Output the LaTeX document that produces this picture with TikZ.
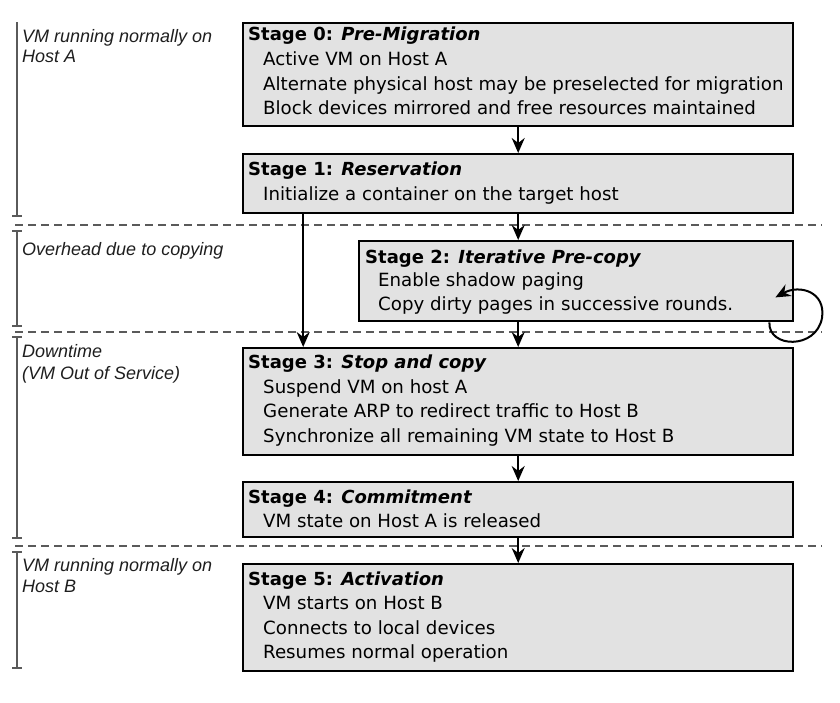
\documentclass[tikz,border=0pt]{standalone}
\usepackage{fontspec}
\setmainfont{DejaVu Sans}
\newfontfamily\labelfont{Liberation Sans}
\usetikzlibrary{arrows.meta,calc}
\definecolor{boxfill}{HTML}{E2E2E2}
\definecolor{barcol}{HTML}{5A5A5A}
\definecolor{labcol}{HTML}{1E1E1E}
\tikzset{
  stagebox/.style={draw=black, line width=2.4pt, fill=boxfill, inner sep=0pt, anchor=north west},
  ttl/.style={anchor=base west, inner sep=0pt, font=\fontsize{18}{22}\selectfont},
  itm/.style={anchor=base west, inner sep=0pt, font=\fontsize{18.2}{22}\selectfont},
  lab/.style={anchor=base west, inner sep=0pt, text=labcol, font=\labelfont\itshape\fontsize{18}{21}\selectfont},
  arr/.style={draw=black, line width=2pt, -{Stealth[length=15pt,width=13pt,inset=5pt]}},
  dashline/.style={draw=barcol, line width=2pt, dash pattern=on 8pt off 5pt},
  bar/.style={draw=barcol, line width=2.5pt},
}
\begin{document}
\begin{tikzpicture}[x=1pt,y=-1pt]
\useasboundingbox (0,0) rectangle (840,702);
% dashed separators
\draw[dashline] (15,225) -- (822,225);
\draw[dashline] (15,332) -- (822,332);
\draw[dashline] (15,546) -- (822,546);
% left bars
\draw[bar] (17,22) -- (17,216) (12,216) -- (22,216);
\draw[bar] (12,231) -- (22,231) (17,231) -- (17,326) (12,326) -- (22,326);
\draw[bar] (12,337) -- (22,337) (17,337) -- (17,538) (12,538) -- (22,538);
\draw[bar] (12,552) -- (22,552) (17,552) -- (17,668) (12,668) -- (22,668);
% labels
\node[lab] (l0a) at (22,42) {VM running normally on};
\node[lab] (l0b) at (22,62) {Host A};
\node[lab] (l1) at (22,255) {Overhead due to copying};
\node[lab] (l2a) at (22,357) {Downtime};
\node[lab] (l2b) at (22,379) {(VM Out of Service)};
\node[lab] (l3a) at (22,571) {VM running normally on};
\node[lab] (l3b) at (22,592) {Host B};
% boxes
\node[stagebox, minimum width=550pt, minimum height=103pt] (s0) at (242,22) {};
\node[stagebox, minimum width=550pt, minimum height=59pt] (s1) at (242,153) {};
\node[stagebox, minimum width=434pt, minimum height=80pt] (s2) at (358,240) {};
\node[stagebox, minimum width=550pt, minimum height=107pt] (s3) at (242,347) {};
\node[stagebox, minimum width=550pt, minimum height=55pt] (s4) at (242,481) {};
\node[stagebox, minimum width=550pt, minimum height=107pt] (s5) at (242,563) {};
% texts
\node[ttl] (t0) at (248,40) {\textbf{Stage 0: \textit{Pre-Migration}}};
\node[itm] (t0a) at (263,65) {Active VM on Host A};
\node[itm] (t0b) at (263,90) {Alternate physical host may be preselected for migration};
\node[itm] (t0c) at (263,114) {Block devices mirrored and free resources maintained};
\node[ttl] (t1) at (248,175) {\textbf{Stage 1: \textit{Reservation}}};
\node[itm] (t1a) at (263,200) {Initialize a container on the target host};
\node[ttl] (t2) at (365,263) {\textbf{Stage 2: \textit{Iterative Pre-copy}}};
\node[itm] (t2a) at (378,286) {Enable shadow paging};
\node[itm] (t2b) at (378,310) {Copy dirty pages in successive rounds.};
\node[ttl] (t3) at (248,368) {\textbf{Stage 3: \textit{Stop and copy}}};
\node[itm] (t3a) at (263,393) {Suspend VM on host A};
\node[itm] (t3b) at (263,417) {Generate ARP to redirect traffic to Host B};
\node[itm] (t3c) at (263,442) {Synchronize all remaining VM state to Host B};
\node[ttl] (t4) at (248,503) {\textbf{Stage 4: \textit{Commitment}}};
\node[itm] (t4a) at (263,527) {VM state on Host A is released};
\node[ttl] (t5) at (248,585) {\textbf{Stage 5: \textit{Activation}}};
\node[itm] (t5a) at (263,609) {VM starts on Host B};
\node[itm] (t5b) at (263,634) {Connects to local devices};
\node[itm] (t5c) at (263,658) {Resumes normal operation};
% arrows
\draw[arr] (s0.south) -- (s1.north);
\draw[arr] (s1.south) -- (s1.south |- s2.north);
\draw[arr] (s2.south -| s1.south) -- (s3.north);
\draw[arr] (s3.south) -- (s4.north);
\draw[arr] (s4.south) -- (s5.north);
\draw[arr] ([xshift=-215pt]s1.south) -- ([xshift=-215pt]s3.north);
\coordinate (loopend) at ([xshift=-19pt,yshift=25pt]s2.south east);
\draw[arr] ([xshift=-25pt]s2.south east) .. controls (768,348) and (816,350) .. (822,318) .. controls (826,292) and (800,284) .. (loopend);
\end{tikzpicture}
\end{document}
